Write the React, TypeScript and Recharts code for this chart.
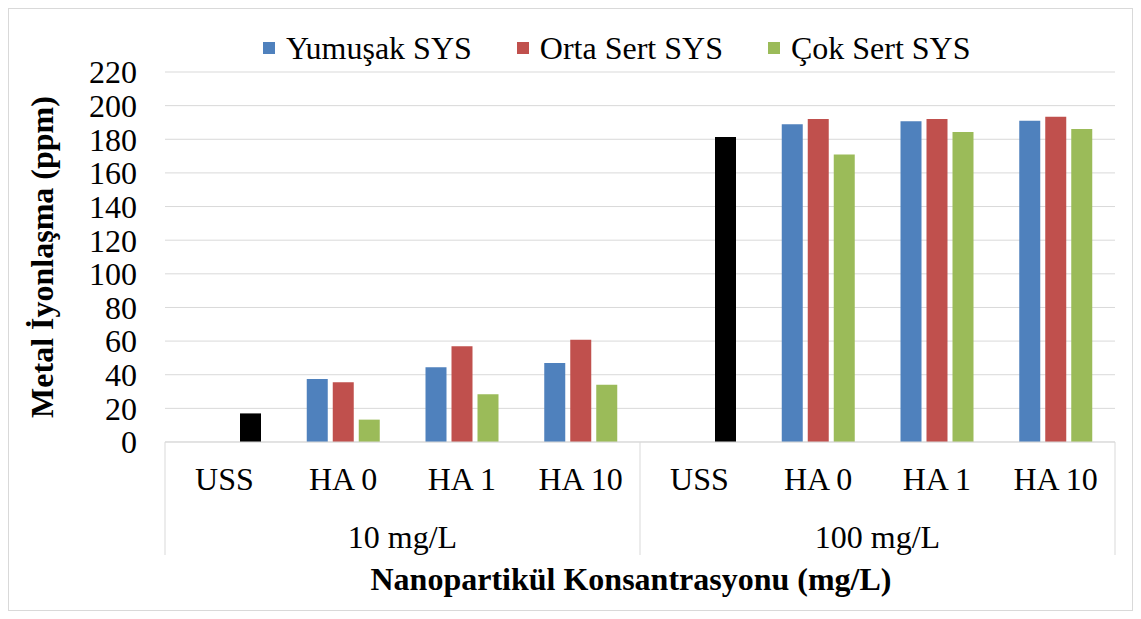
import { Bar, BarChart, CartesianGrid, Cell, XAxis, YAxis } from "recharts";

// values (ppm)
const categories = ["USS", "HA 0", "HA 1", "HA 10", "USS", "HA 0", "HA 1", "HA 10"];
const groups = ["10 mg/L", "10 mg/L", "10 mg/L", "10 mg/L", "100 mg/L", "100 mg/L", "100 mg/L", "100 mg/L"];
const yumusak = [null, 37.5, 44.5, 47, null, 189, 190.7, 191];
const ortaSert = [null, 35.5, 57, 60.8, null, 192, 192, 193.4];
const cokSert = [17, 13.3, 28.4, 34, 181.4, 171, 184.3, 186.1];
const yTicks = [0, 20, 40, 60, 80, 100, 120, 140, 160, 180, 200, 220];

const C_BLUE = "#4F81BD";
const C_RED = "#C0504D";
const C_GREEN = "#9BBB59";
const C_GRID = "#d9d9d9";
const FONT = '"Times New Roman", Tinos, "Liberation Serif", "DejaVu Serif", serif';

const SERIES = [
  { key: "yumusak", name: "Yumuşak SYS", color: C_BLUE },
  { key: "ortaSert", name: "Orta Sert SYS", color: C_RED },
  { key: "cokSert", name: "Çok Sert SYS", color: C_GREEN },
];

const data = categories.map((c, i) => ({
  id: i,
  cat: c,
  group: groups[i],
  yumusak: yumusak[i],
  ortaSert: ortaSert[i],
  cokSert: cokSert[i],
}));

// category labels + the group separators that run down through the second row
function CatTick(props: any) {
  const { x, y, payload } = props;
  const i = payload.index;
  const off = payload.offset ?? 0;
  const first = i === 0 || groups[i] !== groups[i - 1];
  const last = i === groups.length - 1;
  return (
    <g>
      <text x={x} y={y + 48} textAnchor="middle" fontSize={32} fontFamily={FONT} fill="#000">
        {categories[i]}
      </text>
      {first && <line x1={x - off} x2={x - off} y1={y} y2={y + 113} stroke={C_GRID} />}
      {last && <line x1={x + off} x2={x + off} y1={y} y2={y + 113} stroke={C_GRID} />}
    </g>
  );
}

function GroupTick(props: any) {
  const { x, y, payload } = props;
  const i = payload.index;
  const off = payload.offset ?? 0;
  if (i !== 0 && groups[i] === groups[i - 1]) return null;
  const n = groups.filter((g) => g === groups[i]).length;
  return (
    <text x={x + (n - 1) * off} y={y + 48} textAnchor="middle" fontSize={32} fontFamily={FONT} fill="#000">
      {groups[i]}
    </text>
  );
}

export default function App() {
  return (
    <div
      style={{
        position: "relative",
        width: 1123,
        height: 601,
        border: `1px solid ${C_GRID}`,
        background: "#fff",
        fontFamily: FONT,
      }}
    >
      <div
        style={{
          position: "absolute",
          top: 24,
          left: 254,
          display: "flex",
          alignItems: "center",
          height: 30,
          fontSize: 32,
          lineHeight: "30px",
          whiteSpace: "nowrap",
          fontFamily: FONT,
        }}
      >
        {SERIES.map((s, k) => (
          <div key={s.key} style={{ display: "flex", alignItems: "center", marginLeft: k ? 45 : 0 }}>
            <span style={{ width: 12, height: 12, background: s.color, marginRight: 11 }} />
            <span>{s.name}</span>
          </div>
        ))}
      </div>
      <BarChart
        width={1123}
        height={601}
        data={data}
        margin={{ top: 63, right: 17, left: 0, bottom: 50 }}
        barSize={21}
        barGap={5}
      >
        <CartesianGrid vertical={false} stroke={C_GRID} strokeWidth={1} />
        <XAxis
          dataKey="id"
          xAxisId={0}
          height={58}
          tickLine={false}
          tickSize={0}
          tickMargin={0}
          axisLine={{ stroke: C_GRID }}
          tick={<CatTick />}
          interval={0}
        />
        <XAxis
          dataKey="id"
          xAxisId="grp"
          height={60}
          tickLine={false}
          tickSize={0}
          tickMargin={0}
          axisLine={false}
          tick={<GroupTick />}
          interval={0}
          label={{
            content: (p: any) => {
              const vb = p.viewBox;
              return (
                <text
                  x={vb.x + vb.width / 2 - 9}
                  y={vb.y + 90}
                  textAnchor="middle"
                  fontSize={32}
                  fontWeight="bold"
                  fontFamily={FONT}
                  fill="#000"
                >
                  Nanopartikül Konsantrasyonu (mg/L)
                </text>
              );
            },
          }}
        />
        <YAxis
          width={156}
          domain={[0, 220]}
          ticks={yTicks}
          interval={0}
          axisLine={false}
          tickLine={false}
          tickSize={0}
          tickMargin={28}
          tick={{ fontSize: 32, fill: "#000", fontFamily: FONT }}
          label={{
            content: (p: any) => {
              const vb = p.viewBox;
              const cx = vb.x + 33;
              const cy = vb.y + vb.height / 2;
              return (
                <text
                  x={cx}
                  y={cy}
                  transform={`rotate(-90 ${cx} ${cy})`}
                  textAnchor="middle"
                  dominantBaseline="central"
                  fontSize={32}
                  fontWeight="bold"
                  fontFamily={FONT}
                  fill="#000"
                >
                  Metal İyonlaşma (ppm)
                </text>
              );
            },
          }}
        />
        <Bar dataKey="yumusak" name="Yumuşak SYS" fill={C_BLUE} isAnimationActive={false} />
        <Bar dataKey="ortaSert" name="Orta Sert SYS" fill={C_RED} isAnimationActive={false} />
        <Bar dataKey="cokSert" name="Çok Sert SYS" fill={C_GREEN} isAnimationActive={false}>
          {data.map((d) => (
            <Cell key={d.id} fill={d.cat === "USS" ? "#000" : C_GREEN} />
          ))}
        </Bar>
      </BarChart>
    </div>
  );
}
